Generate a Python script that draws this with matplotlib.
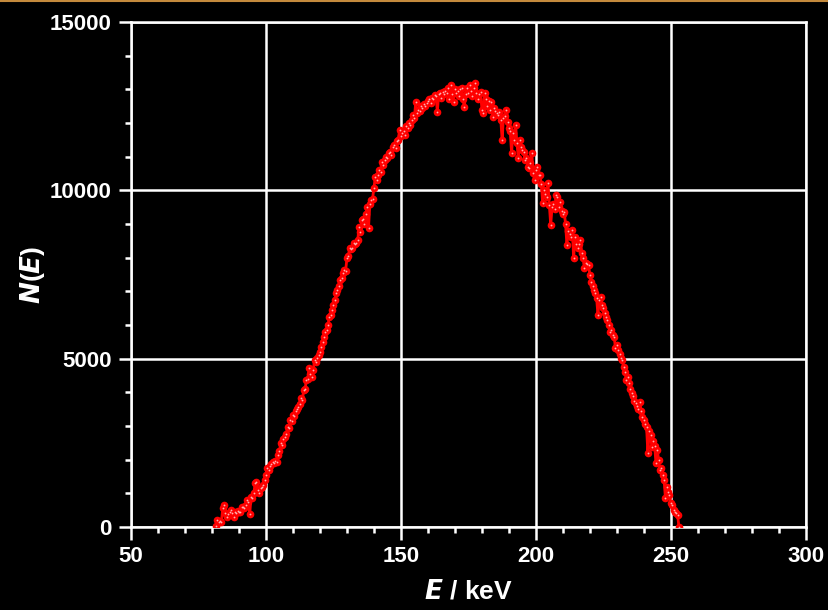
import numpy as np
import matplotlib
matplotlib.use('Agg')
import matplotlib.pyplot as plt

plt.rcParams['font.family'] = ['Liberation Sans', 'DejaVu Sans']
plt.rcParams['font.weight'] = 'bold'

# energy channels (keV), 0.5 keV steps
energy = np.arange(81.5, 253.01, 0.5)

# counts N(E), 10 values per row = 5 keV
counts = [
    20, 200, 150, 170, 160, 560, 650, 420, 310, 380,
    460, 500, 430, 310, 450, 420, 470, 450, 450, 600,
    600, 560, 650, 800, 730, 400, 900, 850, 1000, 1300,
    1350, 1100, 1000, 1150, 1200, 1250, 1400, 1550, 1740, 1700,
    1800, 1880, 1940, 1900, 1960, 1940, 2140, 2250, 2490, 2450,
    2600, 2680, 2750, 2980, 2950, 3180, 3150, 3330, 3300, 3450,
    3500, 3570, 3650, 3820, 3780, 4070, 4100, 4370, 4400, 4710,
    4550, 4460, 4650, 4960, 4900, 5010, 5100, 5210, 5350, 5500,
    5650, 5800, 5850, 6000, 6250, 6300, 6450, 6590, 6750, 6940,
    7050, 7150, 7340, 7400, 7550, 7630, 7600, 7980, 8050, 8280,
    8250, 8300, 8430, 8400, 8450, 8520, 8920, 8750, 9120, 9150,
    9000, 9300, 9510, 8880, 9600, 9710, 9750, 10060, 10390, 10300,
    10450, 10600, 10550, 10850, 10750, 10900, 11000, 10950, 11100, 11150,
    11050, 11300, 11350, 11250, 11450, 11490, 11790, 11600, 11700, 11750,
    11650, 11900, 11850, 12000, 11950, 12100, 12250, 12150, 12630, 12300,
    12400, 12350, 12500, 12450, 12550, 12500, 12580, 12650, 12700, 12600,
    12750, 12700, 12830, 12800, 12330, 12850, 12900, 12750, 12930, 12850,
    12950, 12900, 13050, 12700, 13130, 12850, 12630, 13000, 12900, 12950,
    12800, 13000, 13030, 12700, 12480, 12850, 13050, 12900, 13130, 12950,
    12800, 13050, 13200, 12900, 12700, 12850, 12930, 12400, 12290, 12880,
    12700, 12500, 12650, 12400, 12630, 12190, 12450, 12350, 12300, 12250,
    12330, 12100, 11490, 12150, 12200, 12390, 12040, 11850, 11750, 11100,
    11700, 11500, 11940, 11400, 10950, 11490, 11300, 11200, 11150, 10900,
    10950, 10700, 10650, 10800, 11100, 10500, 10300, 10600, 10700, 10450,
    10450, 10200, 9610, 10000, 9900, 9800, 10210, 9550, 8970, 9500,
    9600, 9450, 9860, 9810, 9500, 9660, 9400, 9300, 9360, 9000,
    8380, 8800, 8700, 8600, 8820, 7980, 8620, 8400, 8300, 8400,
    8520, 8130, 8000, 7680, 7850, 7800, 7780, 7500, 7280, 7150,
    7040, 6950, 6800, 6300, 6750, 6840, 6600, 6500, 6350, 6250,
    6150, 6000, 5800, 5850, 5700, 5650, 5310, 5400, 5250, 5150,
    5010, 4950, 4760, 4600, 4370, 4450, 4270, 4100, 3970, 3900,
    3750, 3670, 3600, 3520, 3720, 3450, 3280, 3180, 3050, 2980,
    2190, 2850, 2730, 2390, 2550, 2400, 1890, 2290, 2000, 1690,
    1750, 1550, 1400, 850, 1200, 1050, 950, 700, 650, 500,
    450, 420, 360, 10,
]

xticks = [50, 100, 150, 200, 250, 300]
yticks = [0, 5000, 10000, 15000]

fig = plt.figure(figsize=(8.29, 6.10), dpi=100, facecolor='black')
ax = fig.add_axes([0.158, 0.136, 0.814, 0.828], facecolor='black')

ax.grid(True, color='white', linewidth=1.8, zorder=0)
ax.plot(energy, counts, color='#ff0000', linewidth=2.0, marker='o',
        markersize=5.5, markeredgewidth=0, zorder=3)
ax.plot(energy, counts, linestyle='none', marker='o', markersize=1.3,
        color='#ffb0b0', markeredgewidth=0, zorder=4)

ax.set_xlim(50, 300)
ax.set_ylim(0, 15000)
ax.set_xticks(xticks)
ax.set_yticks(yticks)
ax.set_xticks(np.arange(50, 301, 10), minor=True)
ax.set_yticks(np.arange(0, 15001, 1000), minor=True)

for s in ax.spines.values():
    s.set_color('white')
    s.set_linewidth(1.8)

ax.tick_params(which='both', direction='out', colors='white', width=1.8,
               top=False, right=False, labelsize=16)
ax.tick_params(which='major', length=9, pad=5)
ax.tick_params(which='minor', length=4.5)
for lab in ax.get_xticklabels() + ax.get_yticklabels():
    lab.set_fontweight('bold')

ax.set_xlabel('$\\bf{\\it{E}}$ / keV', color='white', fontsize=19,
              fontweight='bold', labelpad=9)
ax.set_ylabel('$\\bf{\\it{N}}$($\\bf{\\it{E}}$)', color='white', fontsize=19,
              fontweight='bold', labelpad=2)

fig.add_artist(plt.Line2D([0, 1], [0.999, 0.999], color='#c48a3c',
                          linewidth=1.5, transform=fig.transFigure))

fig.savefig('out.png', dpi=100, facecolor='black')
